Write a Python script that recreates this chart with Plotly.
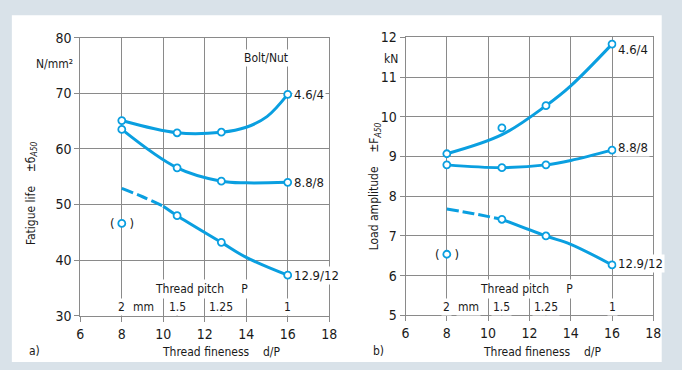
import plotly.graph_objects as go

W, H = 682, 370
def px(x): return x / W
def py(y): return 1 - y / H

# ---------------- data ----------------
d_nom = 16
pitch = [2, 1.5, 1.25, 1]
pitch_labels = ["2", "1.5", "1.25", "1"]
fineness = [d_nom / p for p in pitch]          # 8, 10.67, 12.8, 16

# a) fatigue life (N/mm²) – measured points
a_46 = [65.1, 62.9, 63.0, 69.8]
a_88 = [63.5, 56.6, 54.2, 54.0]
a_129 = [None, 48.0, 43.2, 37.3]
a_129_iso = 46.6
# a) curve traces
a_46_cx = [8, 10.67, 12.8, 14, 15, 16]
a_46_cy = [65.1, 62.9, 63.0, 63.9, 65.8, 69.8]
a_88_cx = [8, 10.67, 12.8, 14, 16]
a_88_cy = [63.5, 56.6, 54.2, 53.9, 54.0]
a_129_dx = [8, 9, 10]
a_129_dy = [52.9, 51.4, 49.7]
a_129_sx = [10, 10.67, 12.8, 14, 16]
a_129_sy = [49.7, 48.0, 43.2, 40.5, 37.3]

# b) load amplitude (kN) – measured points
b_46 = [9.07, 9.72, 10.28, 11.83]
b_88 = [8.79, 8.72, 8.79, 9.16]
b_129 = [None, 7.42, 7.0, 6.27]
b_129_iso = 6.54
b_46_cx = [8, 10.67, 12.8, 14, 16]
b_46_cy = [9.07, 9.55, 10.28, 10.78, 11.83]
b_88_cx = [8, 10.67, 12.8, 14, 16]
b_88_cy = [8.79, 8.72, 8.79, 8.90, 9.16]
b_129_dx = [8, 9.3, 10.67]
b_129_dy = [7.68, 7.56, 7.42]
b_129_sx = [10.67, 12.8, 14, 16]
b_129_sy = [7.42, 7.0, 6.79, 6.27]

series_names = ["4.6/4", "8.8/8", "12.9/12"]

BLUE = "#0a9fe0"
GRID = "#8a8a8a"
FONT = "Liberation Sans Narrow, DejaVu Sans Condensed, Arial Narrow, sans-serif"
TXT = "#1a1a1a"

fig = go.Figure()

def curve(xs, ys, xa, ya, dash="solid"):
    fig.add_trace(go.Scatter(x=xs, y=ys, xaxis=xa, yaxis=ya, mode="lines",
                             line=dict(color=BLUE, width=3, shape="spline", dash=dash),
                             hoverinfo="skip", showlegend=False))

def marks(xs, ys, xa, ya):
    fig.add_trace(go.Scatter(x=xs, y=ys, xaxis=xa, yaxis=ya, mode="markers",
                             marker=dict(symbol="circle", size=7, color="white",
                                         line=dict(color=BLUE, width=1.8)),
                             showlegend=False))

DASH = "12px,4px"
curve(a_46_cx, a_46_cy, "x", "y")
curve(a_88_cx, a_88_cy, "x", "y")
curve(a_129_dx, a_129_dy, "x", "y", DASH)
curve(a_129_sx, a_129_sy, "x", "y")
curve(b_46_cx, b_46_cy, "x2", "y2")
curve(b_88_cx, b_88_cy, "x2", "y2")
curve(b_129_dx, b_129_dy, "x2", "y2", DASH)
curve(b_129_sx, b_129_sy, "x2", "y2")

for s in (a_46, a_88, a_129):
    marks(fineness, s, "x", "y")
marks([fineness[0]], [a_129_iso], "x", "y")
for s in (b_46, b_88, b_129):
    marks(fineness, s, "x2", "y2")
marks([fineness[0]], [b_129_iso], "x2", "y2")

ann = []
def A(text, x, y, xref="paper", yref="paper", size=13, **kw):
    d = dict(text=text, x=x, y=y, xref=xref, yref=yref, showarrow=False,
             xanchor="center", yanchor="middle",
             font=dict(family=FONT, size=size, color=TXT))
    d.update(kw)
    ann.append(d)

# series labels
for name, s, ys in zip(series_names, (a_46, a_88, a_129), (0, 0, 0)):
    A(name, fineness[-1], s[-1], "x", "y", xanchor="left", xshift=4, yshift=ys,
      bgcolor="white", borderpad=1)
for name, s, ys in zip(series_names, (b_46, b_88, b_129), (-5, 3, 1)):
    A(name, fineness[-1], s[-1], "x2", "y2", xanchor="left", xshift=4, yshift=ys,
      bgcolor="white", borderpad=1)

# parentheses around isolated points
A("(    )", fineness[0], a_129_iso, "x", "y", size=13)
A("(    )", fineness[0], b_129_iso, "x2", "y2", size=13)

# units / headers
A("N/mm²", px(51), py(59), size=12)
A("Bolt/Nut", px(267), py(52), size=12, bgcolor="white")
A("kN", px(394), py(53), size=12)

# y titles
A("Fatigue life    ±б<sub><i>A50</i></sub>", px(28), py(194), size=12, textangle=-90)
A("Load amplitude    ±F<sub><i>A50</i></sub>", px(378), py(186), size=12, textangle=-90)

# x titles and panel letters
A("Thread fineness    d/P", px(221), py(360), size=12)
A("Thread fineness    d/P", px(548), py(360), size=12)
A("a)", px(31), py(358), size=12)
A("b)", px(381), py(358), size=12)

# thread pitch secondary scale
for xa in ("x", "x2"):
    A("Thread pitch     P", 12.0, py(294), xa, "paper", size=12, bgcolor="white",
      borderpad=2, xshift=-3)
    for lab, xv in zip(pitch_labels, fineness):
        A(lab, xv, py(313), xa, "paper", size=12, bgcolor="white", borderpad=1)
    A("mm", 9.05, py(313), xa, "paper", size=12, bgcolor="white", borderpad=1)

shapes = [dict(type="rect", xref="paper", yref="paper", x0=px(8), x1=px(669.5),
               y0=0, y1=py(7.5), fillcolor="white", line=dict(width=0), layer="below")]
# small ticks for pitch values on the thread-fineness axis
for xa, ya in (("x", "y"), ("x2", "y2")):
    for xv in fineness[1:3]:
        shapes.append(dict(type="line", xref=xa, yref="paper", x0=xv, x1=xv,
                           y0=py(321.5), y1=py(317), line=dict(color=TXT, width=1)))

axis_common = dict(showgrid=True, gridcolor=GRID, gridwidth=1, showline=True,
                   linecolor=GRID, linewidth=1, mirror=True, ticks="outside",
                   ticklen=5, tickcolor=GRID, zeroline=False,
                   tickfont=dict(family=FONT, size=14, color=TXT), fixedrange=True)

fig.update_layout(
    width=W, height=H, margin=dict(l=0, r=0, t=0, b=0),
    paper_bgcolor="#d9e2e9", plot_bgcolor="white",
    xaxis=dict(domain=[px(77.7), px(331)], range=[6, 18], dtick=2, anchor="y", **axis_common),
    yaxis=dict(domain=[py(321.7), py(31)], range=[30, 80], dtick=10, anchor="x", **axis_common),
    xaxis2=dict(domain=[px(408.7), px(661)], range=[6, 18], dtick=2, anchor="y2", **axis_common),
    yaxis2=dict(domain=[py(321.3), py(30.7)], range=[5, 12], dtick=1, anchor="x2", **axis_common),
    annotations=ann, shapes=shapes, showlegend=False,
)

fig.write_html("out.html", config={"displayModeBar": False},
               post_script="document.body.style.margin='0';document.body.style.overflow='hidden';")
